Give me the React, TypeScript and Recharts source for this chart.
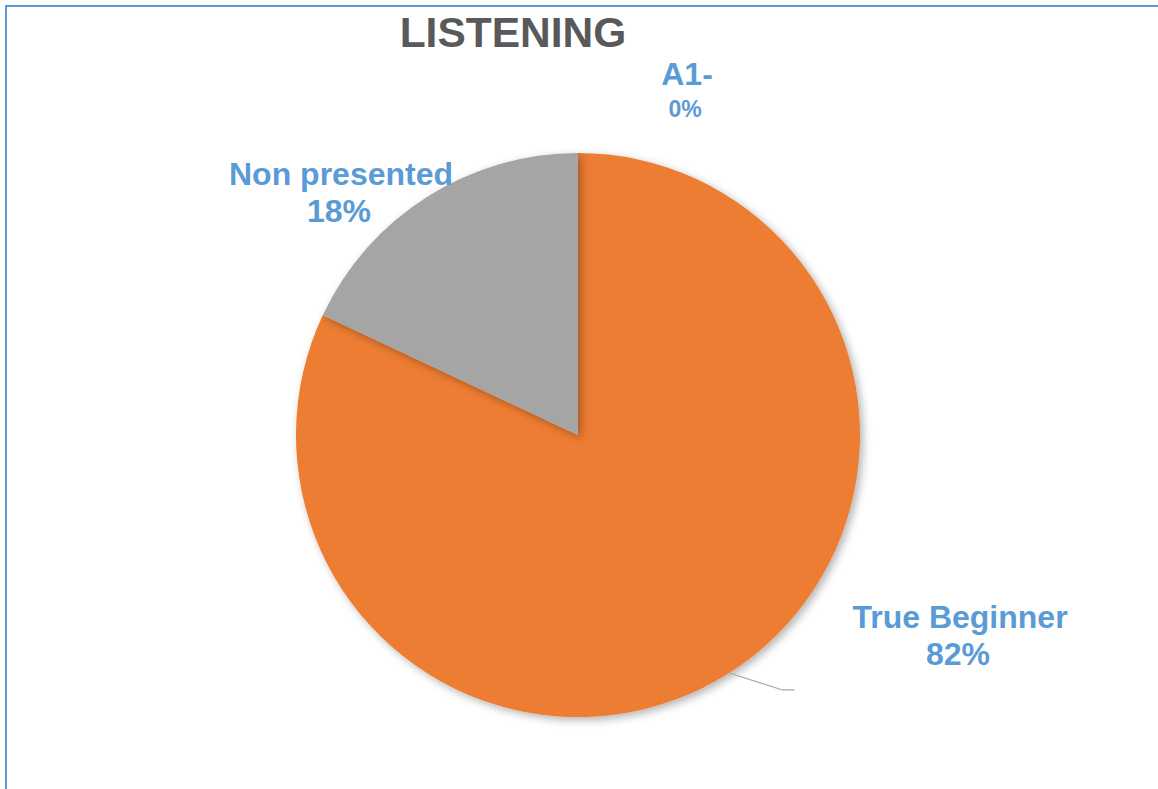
import React from "react";
import { PieChart, Pie, Cell } from "recharts";

const categories = ["True Beginner", "Non presented", "A1-"];
const values = [82, 18, 0];
const colors = ["#ED7D31", "#A5A5A5", "#5B9BD5"];
const title = "LISTENING";

const data = categories.map((name, i) => ({ name, value: values[i] }));

// label block offsets relative to pie centre (name line, percent line), font sizes
const labelPlacement = [
  { dx: 382, dy: 193, gap: 37, nameSize: 32, pctSize: 32, leader: true },
  { dx: -237, dy: -250, gap: 37, nameSize: 32, pctSize: 32, leader: false },
  { dx: 109, dy: -350, gap: 32, nameSize: 32, pctSize: 23, leader: false },
];

const FONT = "'Liberation Sans', Arial, sans-serif";

const renderLabel = (props: any) => {
  const { cx, cy, index, name, percent, outerRadius } = props;
  const p = labelPlacement[index];
  if (!p) return null;
  const x = cx + p.dx;
  const y = cy + p.dy;
  const pct = `${Math.round((percent || 0) * 100)}%`;
  let leader = null;
  if (p.leader) {
    const ang = Math.atan2(239, 152);
    const sx = cx + outerRadius * Math.cos(ang);
    const sy = cy + outerRadius * Math.sin(ang);
    leader = (
      <polyline
        points={`${sx},${sy} ${sx + 53},${sy + 17} ${sx + 65},${sy + 17}`}
        fill="none"
        stroke="#A6A6A6"
        strokeWidth={1.2}
      />
    );
  }
  return (
    <g key={`lbl-${index}`}>
      {leader}
      <text
        x={x}
        y={y}
        textAnchor="middle"
        fill="#5B9BD5"
        fontFamily={FONT}
        fontWeight="bold"
        fontSize={p.nameSize}
      >
        {name}
      </text>
      <text
        x={x - 2}
        y={y + p.gap}
        textAnchor="middle"
        fill="#5B9BD5"
        fontFamily={FONT}
        fontWeight="bold"
        fontSize={p.pctSize}
      >
        {pct}
      </text>
    </g>
  );
};

export default function App() {
  return (
    <div
      style={{
        position: "absolute",
        left: 0,
        top: 0,
        width: 1158,
        height: 789,
        background: "#fff",
        overflow: "hidden",
      }}
    >
      <svg width={0} height={0} style={{ position: "absolute" }}>
        <defs>
          <filter id="pieShadow" x="-20%" y="-20%" width="140%" height="140%">
            <feDropShadow dx="3" dy="3" stdDeviation="4" floodColor="#000" floodOpacity="0.3" />
          </filter>
        </defs>
      </svg>
      <div
        style={{
          position: "absolute",
          left: 5,
          top: 5,
          width: 1200,
          height: 800,
          borderTop: "2px solid #5B9BD5",
          borderLeft: "2px solid #5B9BD5",
          boxSizing: "border-box",
        }}
      />
      <svg width={1158} height={80} style={{ position: "absolute", left: 0, top: 0 }}>
        <text
          x={513}
          y={47}
          textAnchor="middle"
          fill="#595959"
          fontFamily={FONT}
          fontWeight="bold"
          fontSize={42.5}
        >
          {title}
        </text>
      </svg>
      <div style={{ position: "absolute", left: 0, top: 0 }}>
        <PieChart width={1158} height={789} margin={{ top: 0, right: 0, bottom: 0, left: 0 }}>
          <Pie
            data={data}
            dataKey="value"
            nameKey="name"
            cx={578}
            cy={435}
            outerRadius={282}
            startAngle={90}
            endAngle={-270}
            stroke="none"
            isAnimationActive={false}
            label={renderLabel}
            labelLine={false}
            style={{ filter: "url(#pieShadow)" }}
          >
            {data.map((d, i) => (
              <Cell key={d.name} fill={colors[i]} stroke="none" />
            ))}
          </Pie>
        </PieChart>
      </div>
    </div>
  );
}
